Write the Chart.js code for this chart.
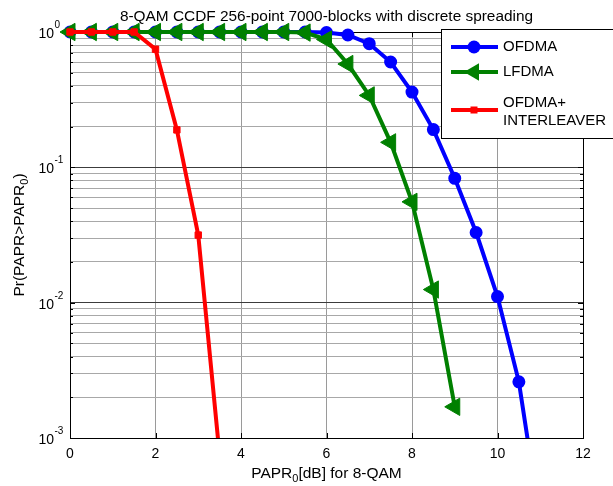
<!DOCTYPE html>
<html>
<head>
<meta charset="utf-8">
<script src="https://cdn.jsdelivr.net/npm/chart.js@4/dist/chart.umd.min.js"></script>
<style>
  html, body { margin: 0; padding: 0; background: #fff; }
</style>
</head>
<body>
<canvas id="ccdf" width="613" height="486"></canvas>
<script>
/* 8-QAM CCDF, MATLAB-looking semilogy plot. */

// PAPR0 in dB (x) and Pr(PAPR>PAPR0) (y)
const OFDMA_X = [0, 0.5, 1, 1.5, 2, 2.5, 3, 3.5, 4, 4.5, 5, 5.5, 6, 6.5, 7, 7.5, 8, 8.5, 9, 9.5, 10, 10.5, 11];
const OFDMA_Y = [1, 1, 1, 1, 1, 1, 1, 1, 1, 1, 1, 1, 0.99, 0.95, 0.82, 0.60, 0.36, 0.19, 0.083, 0.033, 0.0111, 0.0026, 0.00024];

const LFDMA_X = [0, 0.5, 1, 1.5, 2, 2.5, 3, 3.5, 4, 4.5, 5, 5.5, 6, 6.5, 7, 7.5, 8, 8.5, 9];
const LFDMA_Y = [1, 1, 1, 1, 1, 1, 1, 1, 1, 1, 1, 0.99, 0.88, 0.58, 0.34, 0.153, 0.0556, 0.0125, 0.0017];

const INTER_X = [0, 0.5, 1, 1.5, 2, 2.5, 3, 3.5];
const INTER_Y = [1, 1, 1, 1, 0.746, 0.189, 0.0316, 0.00074];

const X_TICKS = [0, 2, 4, 6, 8, 10, 12];
const Y_DECADES = [0, -1, -2, -3];

const TITLE = '8-QAM CCDF 256-point 7000-blocks with discrete spreading';
const FONT = "'Liberation Sans', Arial, Helvetica, sans-serif";
const BLUE = '#0000ff';
const GREEN = '#008000';
const RED = '#ff0000';

const pts = (xs, ys) => xs.map((x, i) => ({ x, y: ys[i] }));
const isDecade = v => Math.abs(Math.log10(v) - Math.round(Math.log10(v))) < 1e-9;

// markers may poke out above / left of the axes like in MATLAB, lines stay inside at the bottom
const CLIP = { left: 14, top: 14, right: 0, bottom: 0 };

function minorTicks() {
  const out = [];
  for (let e = -3; e < 0; e++) {
    for (let m = 1; m <= 9; m++) out.push({ value: m * Math.pow(10, e) });
  }
  out.push({ value: 1 });
  return out;
}

// draw "PAPR" + subscript "0" + rest, centred on cx
function subText(ctx, parts, cx, y, size) {
  const big = `${size}px ${FONT}`;
  const small = `${Math.round(size * 0.72)}px ${FONT}`;
  let w = 0;
  parts.forEach(p => { ctx.font = p.sub ? small : big; w += ctx.measureText(p.t).width; });
  let x = cx - w / 2;
  ctx.textAlign = 'left';
  ctx.textBaseline = 'alphabetic';
  parts.forEach(p => {
    ctx.font = p.sub ? small : big;
    ctx.fillText(p.t, x, p.sub ? y + 4 : y);
    x += ctx.measureText(p.t).width;
  });
}

function marker(ctx, kind, x, y, colour) {
  ctx.fillStyle = colour;
  ctx.strokeStyle = colour;
  ctx.beginPath();
  if (kind === 'circle') {
    ctx.arc(x, y, 6.5, 0, Math.PI * 2);
    ctx.fill();
  } else if (kind === 'tri') {
    const r = 10;
    ctx.moveTo(x - r, y);
    ctx.lineTo(x + r / 2, y - r * 0.866);
    ctx.lineTo(x + r / 2, y + r * 0.866);
    ctx.closePath();
    ctx.fill();
  } else {
    ctx.fillRect(x - 3.5, y - 3.5, 7, 7);
  }
}

const matlabPlugin = {
  id: 'matlab',
  beforeDatasetsDraw(chart) {
    const { ctx, chartArea: a, scales: { x, y } } = chart;
    ctx.save();
    ctx.strokeStyle = '#000';
    ctx.lineWidth = 1;
    // inward tick marks
    ctx.beginPath();
    X_TICKS.forEach(v => {
      const px = Math.round(x.getPixelForValue(v)) + 0.5;
      ctx.moveTo(px, a.bottom); ctx.lineTo(px, a.bottom - 5);
      ctx.moveTo(px, a.top); ctx.lineTo(px, a.top + 5);
    });
    y.ticks.forEach(t => {
      const py = Math.round(y.getPixelForValue(t.value)) + 0.5;
      const len = isDecade(t.value) ? 5 : 3;
      ctx.moveTo(a.left, py); ctx.lineTo(a.left + len, py);
      ctx.moveTo(a.right, py); ctx.lineTo(a.right - len, py);
    });
    ctx.stroke();
    // axes box
    ctx.strokeRect(Math.round(a.left) + 0.5, Math.round(a.top) + 0.5,
      Math.round(a.right - a.left), Math.round(a.bottom - a.top));
    ctx.restore();
  },
  afterDraw(chart) {
    const { ctx, chartArea: a, scales: { x, y } } = chart;
    ctx.save();
    ctx.fillStyle = '#000';

    // title
    ctx.font = `15.4px ${FONT}`;
    ctx.textAlign = 'center';
    ctx.textBaseline = 'alphabetic';
    ctx.fillText(TITLE, (a.left + a.right) / 2, 21);

    // x tick labels
    ctx.font = `14px ${FONT}`;
    ctx.textBaseline = 'alphabetic';
    X_TICKS.forEach(v => ctx.fillText(String(v), x.getPixelForValue(v), 458));

    // y tick labels 10^e
    Y_DECADES.forEach(e => {
      const py = y.getPixelForValue(Math.pow(10, e));
      ctx.font = `14px ${FONT}`;
      ctx.textAlign = 'right';
      ctx.fillText('10', 54, py + 6);
      ctx.font = `10px ${FONT}`;
      ctx.textAlign = 'left';
      ctx.fillText(String(e), 54.5, py - 4);
    });

    // axis titles
    ctx.fillStyle = '#000';
    subText(ctx, [{ t: 'PAPR' }, { t: '0', sub: true }, { t: '[dB] for 8-QAM' }],
      (a.left + a.right) / 2, 478, 15.5);
    ctx.save();
    ctx.translate(24, (a.top + a.bottom) / 2);
    ctx.rotate(-Math.PI / 2);
    subText(ctx, [{ t: 'Pr(PAPR>PAPR' }, { t: '0', sub: true }, { t: ')' }], 0, 0, 15.5);
    ctx.restore();

    // legend box (sits over the top-right of the axes)
    ctx.fillStyle = '#fff';
    ctx.fillRect(441.5, 29.5, 180, 109);
    ctx.strokeStyle = '#000';
    ctx.lineWidth = 1;
    ctx.strokeRect(441.5, 29.5, 180, 109);

    const rows = [
      { y: 47, colour: BLUE, kind: 'circle', text: ['OFDMA'] },
      { y: 72, colour: GREEN, kind: 'tri', text: ['LFDMA'] },
      { y: 110, colour: RED, kind: 'rect', text: ['OFDMA+', 'INTERLEAVER'] },
    ];
    rows.forEach(r => {
      ctx.strokeStyle = r.colour;
      ctx.lineWidth = 4;
      ctx.beginPath();
      ctx.moveTo(451, r.y); ctx.lineTo(498, r.y);
      ctx.stroke();
      marker(ctx, r.kind, 474, r.y, r.colour);
      ctx.fillStyle = '#000';
      ctx.font = `15px ${FONT}`;
      ctx.textAlign = 'left';
      ctx.textBaseline = 'middle';
      if (r.text.length === 1) {
        ctx.fillText(r.text[0], 503, r.y);
      } else {
        ctx.fillText(r.text[0], 503, r.y - 7.5);
        ctx.fillText(r.text[1], 503, r.y + 10.5);
      }
    });
    ctx.restore();
  },
};

new Chart(document.getElementById('ccdf'), {
  type: 'line',
  data: {
    datasets: [
      {
        label: 'OFDMA+INTERLEAVER',
        data: pts(INTER_X, INTER_Y),
        borderColor: RED,
        backgroundColor: RED,
        borderWidth: 4,
        pointStyle: 'rect',
        pointRadius: 4.5,
        pointBorderWidth: 1,
        order: 1,
        clip: CLIP,
      },
      {
        label: 'LFDMA',
        data: pts(LFDMA_X, LFDMA_Y),
        borderColor: GREEN,
        backgroundColor: GREEN,
        borderWidth: 4,
        pointStyle: 'triangle',
        pointRotation: -90,
        pointRadius: 10,
        pointBorderWidth: 1,
        order: 2,
        clip: CLIP,
      },
      {
        label: 'OFDMA',
        data: pts(OFDMA_X, OFDMA_Y),
        borderColor: BLUE,
        backgroundColor: BLUE,
        borderWidth: 4,
        pointStyle: 'circle',
        pointRadius: 5.5,
        pointBorderWidth: 2,
        order: 3,
        clip: CLIP,
      },
    ],
  },
  options: {
    responsive: false,
    animation: false,
    layout: { padding: { left: 70, right: 30, top: 32, bottom: 48 } },
    plugins: { legend: { display: false }, tooltip: { enabled: false } },
    scales: {
      x: {
        type: 'linear',
        min: 0,
        max: 12,
        ticks: { display: false, stepSize: 2 },
        grid: { color: '#9a9a9a', drawTicks: false },
        border: { color: '#000' },
      },
      y: {
        type: 'logarithmic',
        min: 0.001,
        max: 1,
        afterBuildTicks: (scale) => { scale.ticks = minorTicks(); },
        ticks: { display: false },
        grid: {
          drawTicks: false,
          color: (c) => (c.tick && isDecade(c.tick.value)) ? '#3c3c3c' : '#a8a8a8',
        },
        border: { color: '#000' },
      },
    },
  },
  plugins: [matlabPlugin],
});
</script>
</body>
</html>
